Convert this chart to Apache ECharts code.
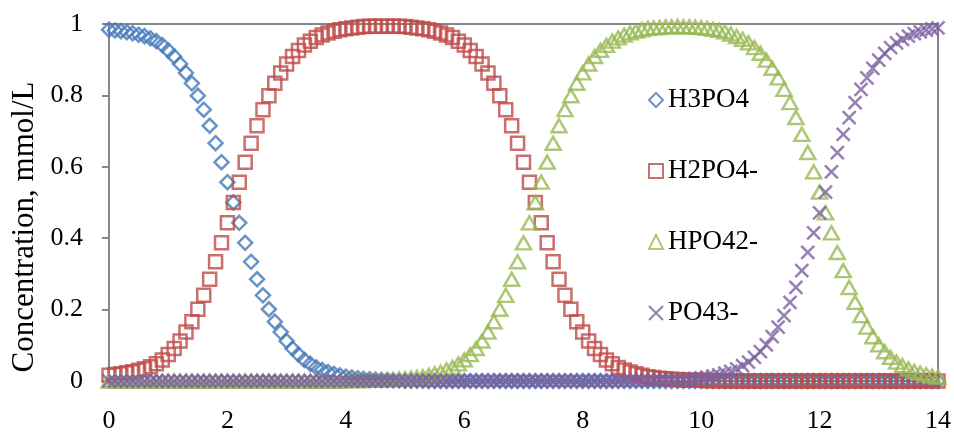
<!DOCTYPE html>
<html>
<head>
<meta charset="utf-8">
<script src="https://cdn.jsdelivr.net/npm/echarts@6/dist/echarts.min.js"></script>
<style>
  html, body { margin: 0; padding: 0; background: #fff; }
  #chart { width: 954px; height: 434px; }
</style>
</head>
<body>
<div id="chart"></div>
<script>
// pH grid (0 to 14, step 0.1)
const pH = [
  0.0, 0.1, 0.2, 0.3, 0.4, 0.5, 0.6, 0.7, 0.8, 0.9,
  1.0, 1.1, 1.2, 1.3, 1.4, 1.5, 1.6, 1.7, 1.8, 1.9,
  2.0, 2.1, 2.2, 2.3, 2.4, 2.5, 2.6, 2.7, 2.8, 2.9,
  3.0, 3.1, 3.2, 3.3, 3.4, 3.5, 3.6, 3.7, 3.8, 3.9,
  4.0, 4.1, 4.2, 4.3, 4.4, 4.5, 4.6, 4.7, 4.8, 4.9,
  5.0, 5.1, 5.2, 5.3, 5.4, 5.5, 5.6, 5.7, 5.8, 5.9,
  6.0, 6.1, 6.2, 6.3, 6.4, 6.5, 6.6, 6.7, 6.8, 6.9,
  7.0, 7.1, 7.2, 7.3, 7.4, 7.5, 7.6, 7.7, 7.8, 7.9,
  8.0, 8.1, 8.2, 8.3, 8.4, 8.5, 8.6, 8.7, 8.8, 8.9,
  9.0, 9.1, 9.2, 9.3, 9.4, 9.5, 9.6, 9.7, 9.8, 9.9,
  10.0, 10.1, 10.2, 10.3, 10.4, 10.5, 10.6, 10.7, 10.8, 10.9,
  11.0, 11.1, 11.2, 11.3, 11.4, 11.5, 11.6, 11.7, 11.8, 11.9,
  12.0, 12.1, 12.2, 12.3, 12.4, 12.5, 12.6, 12.7, 12.8, 12.9,
  13.0, 13.1, 13.2, 13.3, 13.4, 13.5, 13.6, 13.7, 13.8, 13.9,
  14.0
];

// Concentrations, mmol/L
const h3po4 = [
  0.984, 0.982, 0.980, 0.977, 0.974, 0.970, 0.966, 0.960, 0.952, 0.941,
  0.926, 0.909, 0.888, 0.863, 0.834, 0.799, 0.760, 0.715, 0.666, 0.613,
  0.557, 0.500, 0.443, 0.387, 0.334, 0.285, 0.240, 0.201, 0.166, 0.137,
  0.112, 0.091, 0.074, 0.059, 0.048, 0.038, 0.031, 0.025, 0.020, 0.016,
  0.012, 0.010, 0.008, 0.006, 0.005, 0.004, 0.003, 0.003, 0.002, 0.002,
  0.001, 0.001, 0.001, 0.001, 0, 0, 0, 0, 0, 0,
  0, 0, 0, 0, 0, 0, 0, 0, 0, 0,
  0, 0, 0, 0, 0, 0, 0, 0, 0, 0,
  0, 0, 0, 0, 0, 0, 0, 0, 0, 0,
  0, 0, 0, 0, 0, 0, 0, 0, 0, 0,
  0, 0, 0, 0, 0, 0, 0, 0, 0, 0,
  0, 0, 0, 0, 0, 0, 0, 0, 0, 0,
  0, 0, 0, 0, 0, 0, 0, 0, 0, 0,
  0, 0, 0, 0, 0, 0, 0, 0, 0, 0,
  0
];

const h2po4 = [
  0.016, 0.018, 0.020, 0.023, 0.026, 0.030, 0.034, 0.040, 0.048, 0.059,
  0.074, 0.091, 0.112, 0.137, 0.166, 0.201, 0.240, 0.285, 0.334, 0.387,
  0.443, 0.500, 0.557, 0.613, 0.666, 0.715, 0.760, 0.799, 0.834, 0.863,
  0.888, 0.909, 0.926, 0.941, 0.952, 0.962, 0.969, 0.975, 0.980, 0.984,
  0.987, 0.989, 0.991, 0.993, 0.994, 0.994, 0.994, 0.994, 0.994, 0.994,
  0.993, 0.991, 0.989, 0.987, 0.984, 0.980, 0.975, 0.969, 0.962, 0.952,
  0.941, 0.926, 0.909, 0.888, 0.863, 0.834, 0.799, 0.760, 0.715, 0.666,
  0.613, 0.557, 0.500, 0.443, 0.387, 0.334, 0.285, 0.240, 0.201, 0.166,
  0.137, 0.112, 0.091, 0.074, 0.059, 0.048, 0.038, 0.031, 0.025, 0.020,
  0.016, 0.012, 0.010, 0.008, 0.006, 0.005, 0.004, 0.003, 0.003, 0.002,
  0.002, 0.001, 0.001, 0.001, 0.001, 0, 0, 0, 0, 0,
  0, 0, 0, 0, 0, 0, 0, 0, 0, 0,
  0, 0, 0, 0, 0, 0, 0, 0, 0, 0,
  0, 0, 0, 0, 0, 0, 0, 0, 0, 0,
  0
];

const hpo4 = [
  0, 0, 0, 0, 0, 0, 0, 0, 0, 0,
  0, 0, 0, 0, 0, 0, 0, 0, 0, 0,
  0, 0, 0, 0, 0, 0, 0, 0, 0, 0,
  0, 0, 0, 0, 0, 0, 0, 0, 0, 0,
  0.001, 0.001, 0.001, 0.001, 0.002, 0.002, 0.003, 0.003, 0.004, 0.005,
  0.006, 0.008, 0.010, 0.012, 0.016, 0.020, 0.024, 0.031, 0.038, 0.048,
  0.059, 0.074, 0.091, 0.112, 0.137, 0.166, 0.201, 0.240, 0.285, 0.334,
  0.387, 0.443, 0.500, 0.557, 0.613, 0.666, 0.715, 0.760, 0.799, 0.834,
  0.863, 0.888, 0.909, 0.926, 0.940, 0.952, 0.961, 0.969, 0.975, 0.980,
  0.984, 0.987, 0.989, 0.990, 0.992, 0.992, 0.993, 0.992, 0.992, 0.991,
  0.990, 0.988, 0.985, 0.982, 0.978, 0.972, 0.965, 0.957, 0.947, 0.934,
  0.918, 0.899, 0.876, 0.849, 0.817, 0.780, 0.738, 0.691, 0.640, 0.586,
  0.529, 0.471, 0.415, 0.360, 0.309, 0.262, 0.220, 0.183, 0.151, 0.124,
  0.101, 0.082, 0.066, 0.053, 0.043, 0.034, 0.027, 0.022, 0.018, 0.014,
  0.011
];

const po4 = [
  0, 0, 0, 0, 0, 0, 0, 0, 0, 0,
  0, 0, 0, 0, 0, 0, 0, 0, 0, 0,
  0, 0, 0, 0, 0, 0, 0, 0, 0, 0,
  0, 0, 0, 0, 0, 0, 0, 0, 0, 0,
  0, 0, 0, 0, 0, 0, 0, 0, 0, 0,
  0, 0, 0, 0, 0, 0, 0, 0, 0, 0,
  0, 0, 0, 0, 0, 0, 0, 0, 0, 0,
  0, 0, 0, 0, 0, 0, 0, 0, 0, 0,
  0, 0, 0, 0, 0, 0, 0, 0, 0.001, 0.001,
  0.001, 0.001, 0.001, 0.002, 0.002, 0.003, 0.004, 0.004, 0.006, 0.007,
  0.009, 0.011, 0.014, 0.017, 0.022, 0.027, 0.034, 0.043, 0.053, 0.066,
  0.082, 0.101, 0.124, 0.151, 0.183, 0.220, 0.262, 0.309, 0.360, 0.415,
  0.471, 0.529, 0.586, 0.640, 0.691, 0.738, 0.780, 0.817, 0.849, 0.876,
  0.899, 0.918, 0.934, 0.947, 0.957, 0.966, 0.973, 0.978, 0.983, 0.986,
  0.989
];

const speciesNames = ['H3PO4', 'H2PO4-', 'HPO42-', 'PO43-'];
const speciesValues = [h3po4, h2po4, hpo4, po4];

// Tick settings
const xTicks = { min: 0, max: 14, interval: 2 };
const yTicks = { min: 0, max: 1, interval: 0.2 };

const FONT = '"Liberation Serif", "DejaVu Serif", serif';
const AXIS_GRAY = '#868686';

const markerStyles = [
  { symbol: 'diamond', size: 14, color: '#4579B8' },
  { symbol: 'rect', size: 13, color: '#BE4B48' },
  { symbol: 'triangle', size: [15, 13], color: '#98B954' },
  { symbol: 'path://M0,0L10,10M10,0L0,10', size: 13, color: '#7D60A0' }
];

const series = speciesNames.map((name, k) => ({
  name: name,
  type: 'scatter',
  clip: false,
  symbol: markerStyles[k].symbol,
  symbolSize: markerStyles[k].size,
  itemStyle: {
    color: 'rgba(0,0,0,0)',
    borderColor: markerStyles[k].color,
    borderWidth: 2.5
  },
  emphasis: { disabled: true },
  data: pH.map((x, i) => [x, speciesValues[k][i]])
}));

const chart = echarts.init(document.getElementById('chart'), null, { renderer: 'canvas' });
chart.setOption({
  animation: false,
  backgroundColor: '#fff',
  grid: {
    left: 109, right: 15, top: 24, bottom: 53,
    show: true, borderColor: AXIS_GRAY, borderWidth: 2, backgroundColor: 'transparent'
  },
  xAxis: {
    type: 'value',
    min: xTicks.min, max: xTicks.max, interval: xTicks.interval,
    axisLine: { show: true, lineStyle: { color: AXIS_GRAY, width: 2 } },
    axisTick: { show: true, inside: false, length: 6, lineStyle: { color: AXIS_GRAY, width: 2 } },
    axisLabel: { margin: 27, color: '#000', fontFamily: FONT, fontSize: 26 },
    splitLine: { show: false }
  },
  yAxis: {
    type: 'value',
    min: yTicks.min, max: yTicks.max, interval: yTicks.interval,
    axisLine: { show: true, lineStyle: { color: AXIS_GRAY, width: 2 } },
    axisTick: { show: true, inside: false, length: 7, lineStyle: { color: AXIS_GRAY, width: 2 } },
    axisLabel: { margin: 26, color: '#000', fontFamily: FONT, fontSize: 26 },
    splitLine: { show: false }
  },
  legend: {
    orient: 'vertical',
    left: 648,
    top: 85,
    padding: 0,
    itemWidth: 14,
    itemHeight: 14,
    itemGap: 41,
    selectedMode: false,
    textStyle: { color: '#000', fontFamily: FONT, fontSize: 27, lineHeight: 30 },
    data: speciesNames
  },
  graphic: [{
    type: 'text',
    x: 25,
    y: 227,
    rotation: Math.PI / 2,
    style: {
      text: 'Concentration, mmol/L',
      fill: '#000',
      font: '31px ' + FONT,
      align: 'center',
      verticalAlign: 'middle'
    }
  }],
  series: series
});
</script>
</body>
</html>
